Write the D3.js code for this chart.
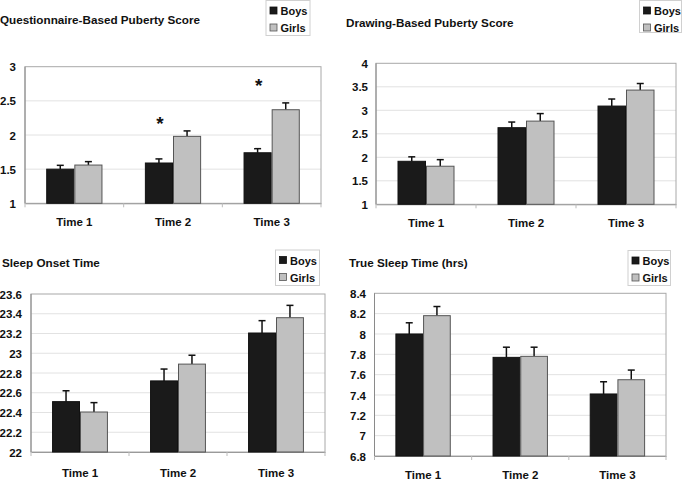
<!DOCTYPE html>
<html><head><meta charset="utf-8">
<script src="https://cdn.jsdelivr.net/npm/d3@7"></script>
<style>body{margin:0;background:#fff}svg{display:block;font-family:"Liberation Sans",Arial,sans-serif}</style>
</head><body>
<script>
const categories = ["Time 1","Time 2","Time 3"];
const seriesNames = ["Boys","Girls"];

const titles = ["Questionnaire-Based Puberty Score","Drawing-Based Puberty Score","Sleep Onset Time","True Sleep Time (hrs)"];

const q_boys = [1.50, 1.59, 1.74];
const q_girls = [1.56, 1.98, 2.37];
const q_boys_err = [1.556, 1.65, 1.80];
const q_girls_err = [1.61, 2.06, 2.47];
const q_ticks = [1, 1.5, 2, 2.5, 3];
const q_stars = [null, 2.24, 2.79];

const d_boys = [1.915, 2.63, 3.09];
const d_girls = [1.81, 2.77, 3.43];
const d_boys_err = [2.01, 2.75, 3.24];
const d_girls_err = [1.95, 2.93, 3.57];
const d_ticks = [1, 1.5, 2, 2.5, 3, 3.5, 4];

const s_boys = [22.51, 22.72, 23.205];
const s_girls = [22.405, 22.89, 23.36];
const s_boys_err = [22.62, 22.84, 23.33];
const s_girls_err = [22.50, 22.98, 23.485];
const s_ticks = [22, 22.2, 22.4, 22.6, 22.8, 23, 23.2, 23.4, 23.6];

const t_boys = [8.0, 7.77, 7.41];
const t_girls = [8.18, 7.78, 7.55];
const t_boys_err = [8.11, 7.87, 7.53];
const t_girls_err = [8.27, 7.87, 7.645];
const t_ticks = [6.8, 7, 7.2, 7.4, 7.6, 7.8, 8, 8.2, 8.4];

const colors = ["#1a1a1a", "#c0c0c0"];
const strokes = ["#111", "#555"];

const svg = d3.select("body").append("svg").attr("width",682).attr("height",480);

const panels = [
  {title:titles[0], boys:q_boys, girls:q_girls, be:q_boys_err, ge:q_girls_err, ticks:q_ticks, stars:q_stars,
   L:25, R:321, T:66.7, B:203.3, titleX:0, titleY:24, legX:265.5, legY:0, legW:45, legH:36, tickRight:16, xPad:14.5},
  {title:titles[1], boys:d_boys, girls:d_girls, be:d_boys_err, ge:d_girls_err, ticks:d_ticks, stars:null,
   L:376, R:676, T:63.3, B:204.3, titleX:346, titleY:27, legX:639, legY:0, legW:43, legH:33, tickRight:368, xPad:14.5},
  {title:titles[2], boys:s_boys, girls:s_girls, be:s_boys_err, ge:s_girls_err, ticks:s_ticks, stars:null,
   L:31, R:325, T:294, B:452, titleX:2, titleY:266.5, legX:275, legY:249.5, legW:45, legH:36.5, tickRight:22, xPad:16.5},
  {title:titles[3], boys:t_boys, girls:t_girls, be:t_boys_err, ge:t_girls_err, ticks:t_ticks, stars:null,
   L:374.5, R:666, T:293.3, B:456, titleX:349, titleY:267, legX:627.5, legY:250, legW:43.5, legH:36, tickRight:366, xPad:14.5}
];

panels.forEach(p => {
  const g = svg.append("g");
  const y = d3.scaleLinear().domain([p.ticks[0], p.ticks[p.ticks.length-1]]).range([p.B, p.T]);
  const x0 = d3.scaleBand().domain(categories).range([p.L, p.R]).paddingInner(0.43).paddingOuter(0.215);
  const x1 = d3.scaleBand().domain(seriesNames).range([0, x0.bandwidth()]);
  const xc = d3.scaleBand().domain(categories).range([p.L, p.R]);

  // gridlines
  g.append("g").selectAll("line").data(p.ticks.slice(1,-1)).join("line")
    .attr("x1",p.L).attr("x2",p.R).attr("y1",d=>y(d)).attr("y2",d=>y(d))
    .attr("stroke","#e2e2e2").attr("stroke-width",1);
  // plot border
  g.append("rect").attr("x",p.L).attr("y",p.T).attr("width",p.R-p.L).attr("height",p.B-p.T)
    .attr("fill","none").attr("stroke","#a8a8a8").attr("stroke-width",1);
  // y axis
  const ya = d3.axisLeft(y).tickValues(p.ticks).tickSize(0).tickPadding(0).tickFormat(d3.format("~g"));
  const yg = g.append("g").attr("transform",`translate(${p.tickRight},0)`).call(ya);
  yg.select(".domain").remove();
  yg.selectAll("text").attr("font-size",11.5).attr("font-weight","bold").attr("fill","#111").attr("dy","0.35em");
  g.append("line").attr("x1",p.L).attr("x2",p.L).attr("y1",p.T).attr("y2",p.B).attr("stroke","#8a8a8a");
  // x axis
  const xa = d3.axisBottom(xc).tickSize(0).tickPadding(p.xPad);
  const xg = g.append("g").attr("transform",`translate(0,${p.B})`).call(xa);
  xg.select(".domain").attr("stroke","#9a9a9a");
  xg.selectAll("text").attr("font-size",11.5).attr("font-weight","bold").attr("fill","#111");
  // category boundary ticks
  const bounds = categories.map(c=>xc(c)).concat([p.R]);
  g.append("g").selectAll("line").data(bounds).join("line")
    .attr("x1",d=>d).attr("x2",d=>d).attr("y1",p.B).attr("y2",p.B+4).attr("stroke","#bbb");

  // bars
  const rows = categories.map((c,i)=>({c, vals:[{s:"Boys",v:p.boys[i],e:p.be[i]},{s:"Girls",v:p.girls[i],e:p.ge[i]}]}));
  const cg = g.append("g").selectAll("g").data(rows).join("g").attr("transform",d=>`translate(${x0(d.c)},0)`);
  cg.selectAll("line.err").data(d=>d.vals).join("line").attr("class","err")
    .attr("x1",d=>x1(d.s)+x1.bandwidth()/2).attr("x2",d=>x1(d.s)+x1.bandwidth()/2)
    .attr("y1",d=>y(d.v)).attr("y2",d=>y(d.e)).attr("stroke","#111").attr("stroke-width",1.5);
  cg.selectAll("line.cap").data(d=>d.vals).join("line").attr("class","cap")
    .attr("x1",d=>x1(d.s)+x1.bandwidth()/2-3.5).attr("x2",d=>x1(d.s)+x1.bandwidth()/2+3.5)
    .attr("y1",d=>y(d.e)).attr("y2",d=>y(d.e)).attr("stroke","#111").attr("stroke-width",1.5);
  cg.selectAll("rect").data(d=>d.vals).join("rect")
    .attr("x",d=>x1(d.s)+0.5).attr("width",x1.bandwidth()-1)
    .attr("y",d=>y(d.v)).attr("height",d=>p.B-y(d.v))
    .attr("fill",(d,i)=>colors[i]).attr("stroke",(d,i)=>strokes[i]).attr("stroke-width",1);

  // stars
  if (p.stars) {
    g.append("g").selectAll("text").data(categories.map((c,i)=>({c,v:p.stars[i]})).filter(d=>d.v!=null)).join("text")
      .attr("x",d=>xc(d.c)+xc.bandwidth()/2-13).attr("y",d=>y(d.v)+11)
      .attr("text-anchor","middle").attr("font-size",19).attr("font-weight","bold").attr("fill","#111").text("*");
  }

  // title
  g.append("text").attr("x",p.titleX).attr("y",p.titleY).attr("font-size",11.7).attr("font-weight","bold")
    .attr("fill","#111").text(p.title);

  // legend
  const lg = g.append("g").attr("transform",`translate(${p.legX},${p.legY})`);
  lg.append("rect").attr("x",0.5).attr("y",0.5).attr("width",p.legW-1).attr("height",p.legH-1)
    .attr("fill","#fff").attr("stroke","#d0d0d0");
  seriesNames.forEach((s,i)=>{
    lg.append("rect").attr("x",4.5).attr("y",7+i*17).attr("width",7).attr("height",7)
      .attr("fill",colors[i]).attr("stroke",strokes[i]).attr("stroke-width",0.8);
    lg.append("text").attr("x",15).attr("y",15+i*17).attr("font-size",11).attr("font-weight","bold")
      .attr("fill","#111").text(s);
  });
});
</script>
</body></html>
